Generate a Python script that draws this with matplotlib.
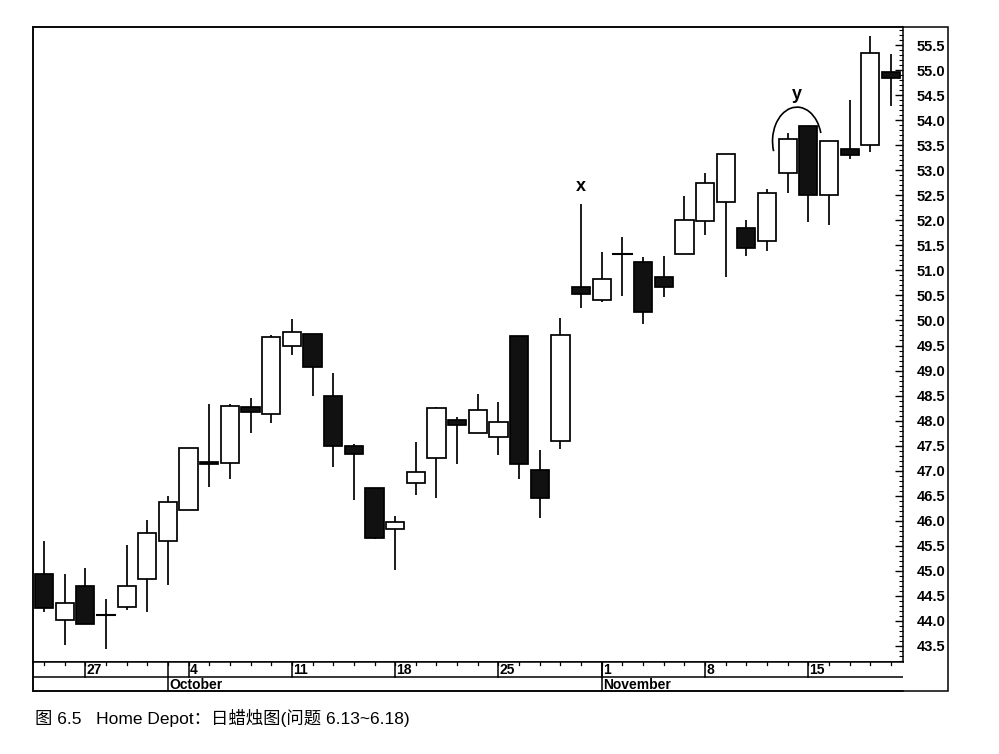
import numpy as np
import pandas as pd
import matplotlib
matplotlib.use("Agg")
import matplotlib.pyplot as plt
from matplotlib.patches import Rectangle, Arc
from matplotlib.ticker import MultipleLocator, FormatStrFormatter

# Home Depot 日线，1999-09-23 ~ 1999-11-19
dates = pd.bdate_range("1999-09-23", "1999-11-19")
opens = [44.94, 44.02, 44.69, 44.11, 44.27, 44.84, 45.60, 46.21, 47.18, 47.16,
         48.28, 48.13, 49.50, 49.72, 48.50, 47.50, 46.65, 45.84, 46.75, 47.25,
         48.01, 47.75, 47.67, 49.68, 47.01, 47.59, 50.66, 50.41, 51.33, 51.17,
         50.87, 51.33, 51.99, 52.37, 51.84, 51.59, 52.95, 53.88, 52.50, 53.43,
         53.50, 54.97]
highs = [45.60, 44.94, 45.06, 44.43, 45.51, 46.02, 46.49, 47.46, 48.33, 48.33,
         48.45, 49.70, 50.03, 49.72, 48.96, 47.54, 46.65, 46.10, 47.58, 48.28,
         48.08, 48.54, 48.37, 49.68, 47.41, 50.04, 52.33, 51.37, 51.66, 51.27,
         51.29, 52.49, 52.95, 53.33, 52.01, 52.62, 53.74, 53.88, 53.59, 54.40,
         55.68, 55.33]
lows = [44.18, 43.52, 43.94, 43.44, 44.22, 44.17, 44.72, 46.21, 46.68, 46.83,
        47.75, 47.95, 49.32, 48.49, 47.08, 46.41, 45.63, 45.02, 46.51, 46.45,
        47.13, 47.75, 47.31, 46.83, 46.05, 47.43, 50.24, 50.37, 50.49, 49.93,
        50.46, 51.33, 51.71, 50.87, 51.29, 51.39, 52.54, 51.96, 51.91, 53.22,
        53.37, 54.28]
closes = [44.26, 44.35, 43.94, 44.11, 44.69, 45.76, 46.38, 47.46, 47.14, 48.29,
          48.18, 49.66, 49.76, 49.08, 47.49, 47.33, 45.66, 45.98, 46.97, 48.25,
          47.92, 48.21, 47.97, 47.13, 46.46, 49.71, 50.52, 50.83, 51.33, 50.16,
          50.67, 52.00, 52.74, 53.33, 51.45, 52.54, 53.63, 52.50, 53.59, 53.30,
          55.35, 54.85]

W, H = 999, 754
fig = plt.figure(figsize=(W / 100, H / 100), dpi=100)
fig.patch.set_facecolor("white")


def px_box(x0, y0, x1, y1):
    return [x0 / W, 1 - y1 / H, (x1 - x0) / W, (y1 - y0) / H]


ax = fig.add_axes(px_box(33, 27, 903, 662))
xs = np.arange(len(dates))
xlim = (-0.53, 41.58)
ax.set_xlim(*xlim)
ax.set_ylim(43.18, 55.86)

bw = 0.88
for x, o, h, l, c in zip(xs, opens, highs, lows, closes):
    ax.plot([x, x], [l, h], color="black", lw=1.25, zorder=1, solid_capstyle="butt")
    if abs(c - o) < 0.02:
        ax.plot([x - bw / 2, x + bw / 2], [o, o], color="black", lw=1.5, zorder=2)
        continue
    face = "white" if c > o else "#111111"
    ax.bar(x, abs(c - o), bottom=min(o, c), width=bw, color=face,
           edgecolor="black", linewidth=1.25, zorder=2)

# 标注 x, y
ax.text(26, 52.68, "x", ha="center", va="center", fontsize=13,
        fontweight="bold", family="Liberation Sans")
ax.text(36.45, 54.52, "y", ha="center", va="center", fontsize=13,
        fontweight="bold", family="Liberation Sans")
ax.add_patch(Arc((36.45, 53.58), 2.37, 1.36, theta1=8, theta2=190,
                 color="black", lw=1.2))

ax.yaxis.tick_right()
ax.yaxis.set_major_locator(MultipleLocator(0.5))
ax.yaxis.set_minor_locator(MultipleLocator(0.1))
ax.yaxis.set_major_formatter(FormatStrFormatter("%.1f"))
ax.tick_params(axis="y", which="major", direction="in", length=6, width=1,
               pad=10, labelsize=10.5)
ax.tick_params(axis="y", which="minor", direction="in", length=3, width=0.8)
ax.set_yticks(np.arange(43.5, 55.51, 0.5))
for lab in ax.get_yticklabels():
    lab.set_fontweight("bold")
    lab.set_family("Liberation Sans")
ax.set_xticks([])
for s in ax.spines.values():
    s.set_linewidth(1.1)

# 日期轴
axd = fig.add_axes(px_box(33, 662, 903, 691))
axd.set_xlim(*xlim)
axd.set_ylim(0, 2)
axd.set_xticks([])
axd.set_yticks([])
axd.spines["right"].set_visible(False)
for s in axd.spines.values():
    s.set_linewidth(1.1)
axd.axhline(1, color="black", lw=1.1)
date_font = dict(fontsize=10, fontweight="bold",
                 family=["Liberation Sans Narrow", "Liberation Sans"])
for i, d in enumerate(dates):
    axd.plot([i, i], [2, 1.78], color="black", lw=0.9)
    if i > 0 and d.month != dates[i - 1].month:
        axd.plot([i, i], [2, 0], color="black", lw=1.1)
        axd.text(i + 0.06, -0.05, d.strftime("%B"), ha="left", va="bottom",
                 **date_font)
    if d.weekday() == 0:
        axd.plot([i, i], [2, 1], color="black", lw=1.1)
        axd.text(i + 0.06, 0.95, str(d.day), ha="left", va="bottom",
                 **date_font)

# 外框
fig.add_artist(Rectangle((33 / W, 1 - 691 / H), (948 - 33) / W, (691 - 27) / H,
                         transform=fig.transFigure, fill=False,
                         edgecolor="black", lw=1.1))

fig.text(35 / W, 1 - 718 / H, "图 6.5   Home Depot：日蜡烛图(问题 6.13~6.18)",
         ha="left", va="center", fontsize=12.5,
         family=["Liberation Sans", "Noto Sans CJK SC"])

fig.savefig("out.png", dpi=100)
